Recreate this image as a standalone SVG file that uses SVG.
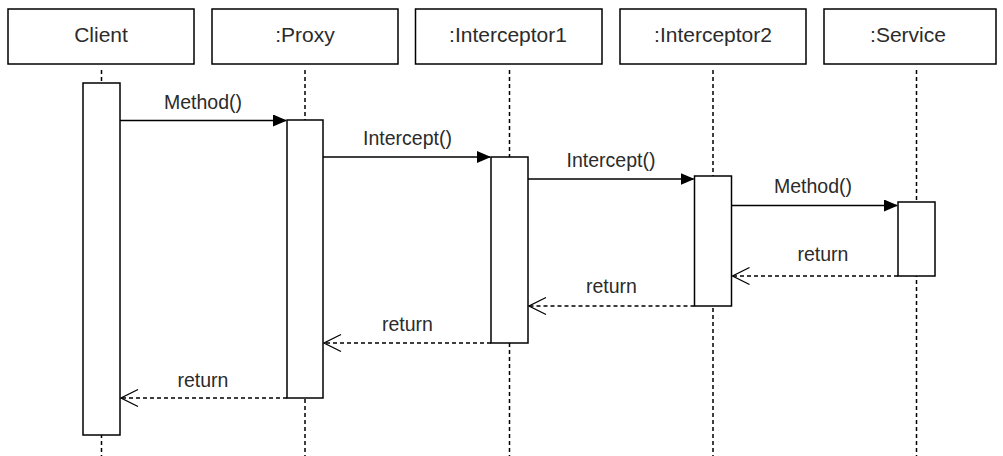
<svg xmlns="http://www.w3.org/2000/svg" width="1003" height="456" viewBox="0 0 1003 456">
  <style>
    .head { fill: #ffffff; stroke: #000000; stroke-width: 1.5; }
    .act { fill: #ffffff; stroke: #000000; stroke-width: 1.5; }
    .life { stroke: #000000; stroke-width: 1.5; stroke-dasharray: 4 3; fill: none; }
    .call { stroke: #000000; stroke-width: 1.5; fill: none; marker-end: url(#solidHead); }
    .ret { stroke: #000000; stroke-width: 1.5; stroke-dasharray: 4 3; fill: none; marker-end: url(#openHead); }
    .title { font-family: "Liberation Sans", Arial, sans-serif; font-size: 21px; fill: #2b2b2b; text-anchor: middle; }
    .label { font-family: "Liberation Sans", Arial, sans-serif; font-size: 19.5px; fill: #2b2b2b; text-anchor: middle; }
  </style>
  <defs>
    <marker id="solidHead" markerUnits="userSpaceOnUse" viewBox="0 0 14 12" markerWidth="14" markerHeight="12" refX="13" refY="6" orient="auto">
      <path d="M0,0 L14,6 L0,12 Z" fill="#000000"/>
    </marker>
    <marker id="openHead" markerUnits="userSpaceOnUse" viewBox="0 0 20 20" markerWidth="20" markerHeight="20" refX="18" refY="10" orient="auto">
      <path d="M1,1.5 L18,10 L1,18.5" fill="none" stroke="#000000" stroke-width="1.3"/>
    </marker>
  </defs>

  <rect width="1003" height="456" fill="#ffffff"/>

  <!-- lifelines -->
  <g id="lifelines">
    <line class="life" x1="101.5" y1="70" x2="101.5" y2="456"/>
    <line class="life" x1="305" y1="70" x2="305" y2="456"/>
    <line class="life" x1="509.5" y1="70" x2="509.5" y2="456"/>
    <line class="life" x1="713" y1="70" x2="713" y2="456"/>
    <line class="life" x1="916.5" y1="70" x2="916.5" y2="456"/>
  </g>

  <!-- participants -->
  <g id="client">
    <rect class="head" x="8" y="9" width="186" height="55"/>
    <text class="title" x="101" y="42">Client</text>
    <rect class="act" x="83" y="83" width="37" height="352"/>
  </g>
  <g id="proxy">
    <rect class="head" x="212" y="9" width="186" height="55"/>
    <text class="title" x="305" y="42">:Proxy</text>
    <rect class="act" x="287" y="120" width="36" height="278"/>
  </g>
  <g id="interceptor1">
    <rect class="head" x="415.5" y="9" width="186.5" height="55"/>
    <text class="title" x="508" y="42">:Interceptor1</text>
    <rect class="act" x="491" y="157" width="37" height="186"/>
  </g>
  <g id="interceptor2">
    <rect class="head" x="620" y="9" width="186" height="55"/>
    <text class="title" x="713" y="42">:Interceptor2</text>
    <rect class="act" x="694.5" y="176" width="37" height="130"/>
  </g>
  <g id="service">
    <rect class="head" x="824" y="9" width="172" height="55"/>
    <text class="title" x="908" y="42">:Service</text>
    <rect class="act" x="898" y="202" width="37" height="74"/>
  </g>

  <!-- messages -->
  <g id="connectors">
    <line class="call" x1="120" y1="120.5" x2="286" y2="120.5"/>
    <line class="call" x1="323" y1="157" x2="490" y2="157"/>
    <line class="call" x1="528" y1="179" x2="693.5" y2="179"/>
    <line class="call" x1="731.5" y1="205.5" x2="897" y2="205.5"/>
    <line class="ret" x1="898" y1="276" x2="732.5" y2="276"/>
    <line class="ret" x1="694.5" y1="306" x2="529" y2="306"/>
    <line class="ret" x1="491" y1="343" x2="324" y2="343"/>
    <line class="ret" x1="287" y1="398" x2="121" y2="398"/>
  </g>

  <!-- message labels -->
  <g id="labels">
    <text class="label" x="203" y="109">Method()</text>
    <text class="label" x="407.5" y="145">Intercept()</text>
    <text class="label" x="611" y="167">Intercept()</text>
    <text class="label" x="813" y="193">Method()</text>
    <text class="label" x="823" y="261">return</text>
    <text class="label" x="611.5" y="293">return</text>
    <text class="label" x="407.5" y="331">return</text>
    <text class="label" x="203" y="387">return</text>
  </g>
</svg>
